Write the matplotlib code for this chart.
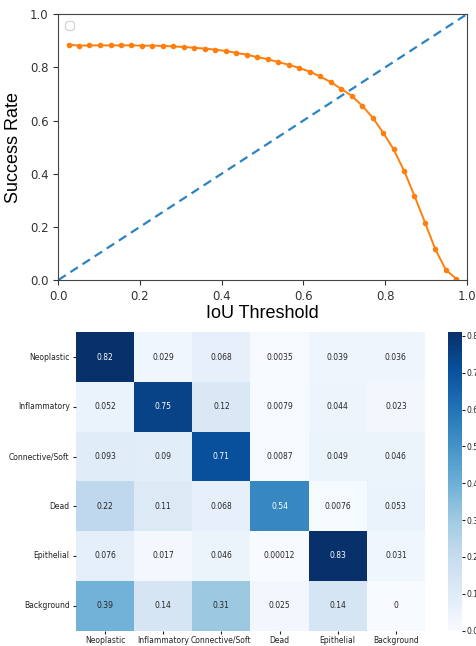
import matplotlib
matplotlib.use("Agg")
import matplotlib.pyplot as plt
import numpy as np
import seaborn as sns

# ---- top chart data ----
iou_thresholds = [0.025, 0.051, 0.076, 0.102, 0.128, 0.153, 0.179, 0.205, 0.230, 0.256,
                  0.282, 0.307, 0.333, 0.359, 0.384, 0.410, 0.436, 0.461, 0.487, 0.513,
                  0.539, 0.564, 0.590, 0.616, 0.641, 0.667, 0.693, 0.718, 0.744, 0.770,
                  0.795, 0.821, 0.847, 0.872, 0.898, 0.923, 0.949, 0.975]
success_rate = [0.886, 0.882, 0.883, 0.883, 0.883, 0.883, 0.883, 0.882, 0.882, 0.881,
                0.879, 0.877, 0.874, 0.871, 0.867, 0.862, 0.855, 0.848, 0.839, 0.831,
                0.820, 0.810, 0.798, 0.784, 0.766, 0.745, 0.719, 0.694, 0.656, 0.611,
                0.555, 0.492, 0.410, 0.317, 0.216, 0.116, 0.038, 0.004]
diag_x = [0.0, 1.0]
diag_y = [0.0, 1.0]

# ---- confusion matrix data ----
classes = ["Neoplastic", "Inflammatory", "Connective/Soft", "Dead", "Epithelial", "Background"]
cm_neoplastic = [0.82, 0.029, 0.068, 0.0035, 0.039, 0.036]
cm_inflammatory = [0.052, 0.75, 0.12, 0.0079, 0.044, 0.023]
cm_connective = [0.093, 0.09, 0.71, 0.0087, 0.049, 0.046]
cm_dead = [0.22, 0.11, 0.068, 0.54, 0.0076, 0.053]
cm_epithelial = [0.076, 0.017, 0.046, 0.00012, 0.83, 0.031]
cm_background = [0.39, 0.14, 0.31, 0.025, 0.14, 0]

W, H = 477, 646
fig = plt.figure(figsize=(W / 100, H / 100), dpi=100)

def box(l, t, r, b):
    return [l / W, 1 - b / H, (r - l) / W, (b - t) / H]

# ---- top plot ----
ax = fig.add_axes(box(58.3, 14.3, 466.7, 280))
ax.plot(diag_x, diag_y, linestyle="--", color="#2b83c3", lw=1.6, dashes=(4, 2.5))
ax.plot(iou_thresholds, success_rate, color="#ff7f0e", lw=1.4, marker="o", ms=3)
ax.set_xlim(0, 1)
ax.set_ylim(0, 1)
ax.set_xticks([0, 0.2, 0.4, 0.6, 0.8, 1.0])
ax.set_yticks([0, 0.2, 0.4, 0.6, 0.8, 1.0])
ax.tick_params(labelsize=8.5, colors="#333333", length=3.5)
for s in ax.spines.values():
    s.set_color("#444444")
ax.set_xlabel("IoU Threshold", fontsize=13, family="Liberation Sans", labelpad=2)
ax.set_ylabel("Success Rate", fontsize=13, family="Liberation Sans", labelpad=6)
ax.legend(handles=[], loc="upper left", borderpad=0.3, framealpha=0.8)

# ---- heatmap ----
cm = np.array([cm_neoplastic, cm_inflammatory, cm_connective, cm_dead, cm_epithelial, cm_background])
hax = fig.add_axes(box(76, 332.3, 425, 630.5))
cax = fig.add_axes(box(447.7, 332.3, 462.3, 630.5))
sns.heatmap(cm, ax=hax, cbar_ax=cax, cmap="Blues", annot=True, fmt=".2g",
            vmin=0, vmax=0.81, annot_kws={"fontsize": 5.5},
            xticklabels=classes, yticklabels=classes)
for t in hax.texts:
    v = float(t.get_text())
    t.set_color("white" if v > 0.5 else "#262626")
hax.tick_params(axis="x", labelsize=5.5, length=2.5, pad=1.2, colors="#222222")
hax.tick_params(axis="y", labelsize=5.5, length=2.5, pad=2, colors="#222222")
plt.setp(hax.get_yticklabels(), rotation=0)
plt.setp(hax.get_xticklabels(), rotation=0)
cax.tick_params(labelsize=5.5, length=2, pad=0.8, colors="#222222")
cax.set_yticks([0, 0.1, 0.2, 0.3, 0.4, 0.5, 0.6, 0.7, 0.8])

fig.savefig("out.png", dpi=100)
